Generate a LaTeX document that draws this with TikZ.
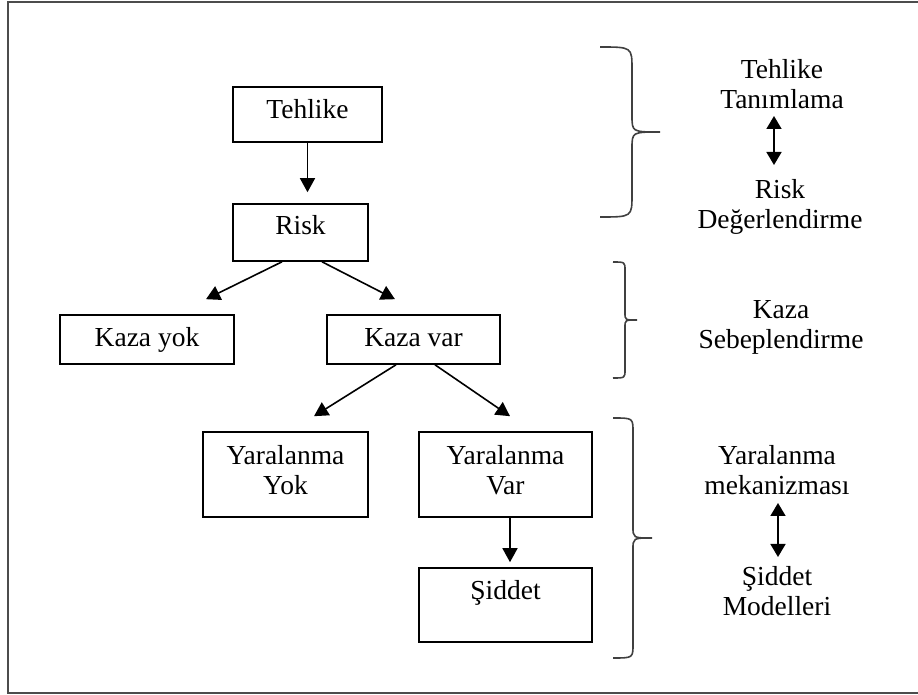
\documentclass[tikz,border=0pt]{standalone}
\usepackage{fontspec}
\setmainfont{Liberation Serif}
\usetikzlibrary{arrows.meta,calc}
\newcommand\yazi{\fontsize{13.75}{15}\selectfont}
\begin{document}
\begin{tikzpicture}[x=0.5pt, y=-0.5pt,
    kutu/.style={draw, line width=0.8pt, inner sep=0pt, align=center, text height=9.5pt, font=\yazi},
    not/.style={inner sep=0pt, align=center, anchor=north, text height=24.5pt, text depth=3pt, font=\yazi},
    ok/.style={line width=0.8pt, -{Triangle[length=7pt,width=7.5pt]}},
    cift/.style={line width=0.8pt, {Triangle[length=6.5pt,width=7.5pt]}-{Triangle[length=6.5pt,width=7.5pt]}},
    kume/.style={line width=0.8pt, black!75}]
    \useasboundingbox (0,0) rectangle (918,695);
    \draw[line width=1pt, black!70] (918,2) -- (8,2) -- (8,693) -- (918,693);

    % kutular
    \node[kutu, minimum width=74.5pt, minimum height=27.5pt, text depth=5pt] (tehlike) at (307.5,114.5) {Tehlike};
    \node[kutu, minimum width=67.5pt, minimum height=28.5pt, text depth=7pt] (risk) at (300.5,232.5) {Risk};
    \node[kutu, minimum width=87pt, minimum height=24.5pt, text depth=2pt] (kazayok) at (147,339.5) {Kaza yok};
    \node[kutu, minimum width=86.5pt, minimum height=24.5pt, text depth=2pt] (kazavar) at (413.5,339.5) {Kaza var};
    \node[kutu, minimum width=82.5pt, minimum height=42.5pt, text height=24.5pt, text depth=4pt] (yyok) at (285.5,474.5) {Yaralanma\\Yok};
    \node[kutu, minimum width=86.5pt, minimum height=42.5pt, text height=24.5pt, text depth=4pt] (yvar) at (505.5,474.5) {Yaralanma\\Var};
    \node[kutu, minimum width=86.5pt, minimum height=37pt, text depth=14.5pt] (siddet) [below of=yvar, node distance=65.25pt] {Şiddet};

    \draw[ok, shorten >=5.5pt] (tehlike.south) -- (tehlike.south |- risk.north);
    \draw[ok] ($(risk.south)+(-18.5,0)$) -- ($(kazayok.north)+(59,-15)$);
    \draw[ok] ($(risk.south)+(21.5,0)$) -- ($(kazavar.north)+(-18.5,-15)$);
    \draw[ok] ($(kazavar.south)+(-17.5,0)$) -- ($(yyok.north)+(28.5,-15)$);
    \draw[ok] ($(kazavar.south)+(21.5,0)$) -- ($(yvar.north)+(4.5,-15)$);
    \draw[ok] ($(yvar.south)+(4.5,0)$) -- ($(siddet.north)+(4.5,-5)$);

    % sag taraf
    \node[not] (tt) at (782,59) {Tehlike\\Tanımlama};
    \node[not] (rd) at (780,179) {Risk\\Değerlendirme};
    \node[not] (ks) at (781,299) {Kaza\\Sebeplendirme};
    \node[not] (ym) at (777,445) {Yaralanma\\mekanizması};
    \node[not] (sm) at (777,566) {Şiddet\\Modelleri};
    \draw[cift] ($(tt.north)+(-8,57)$) -- ($(rd.north)+(-6,-14)$);
    \draw[cift] ($(ym.north)+(1,58)$) -- ($(sm.north)+(1,-9)$);

    % parantezler
    \foreach \xa/\ya/\yb/\xv/\xt in {600/47/217/632/660, 613/262/378/625/637, 613/418/658/633/652}{
      \pgfmathsetmacro\ym{(\ya+\yb)/2}
      \draw[kume] (\xa,\ya) .. controls (\xv,\ya) .. (\xv,{\ya+0.7*(\xv-\xa)})
        -- (\xv,{\ym-0.6*(\xt-\xv)}) .. controls (\xv,\ym) .. (\xt,\ym)
        .. controls (\xv,\ym) .. (\xv,{\ym+0.6*(\xt-\xv)})
        -- (\xv,{\yb-0.7*(\xv-\xa)}) .. controls (\xv,\yb) .. (\xa,\yb);
    }
\end{tikzpicture}
\end{document}
